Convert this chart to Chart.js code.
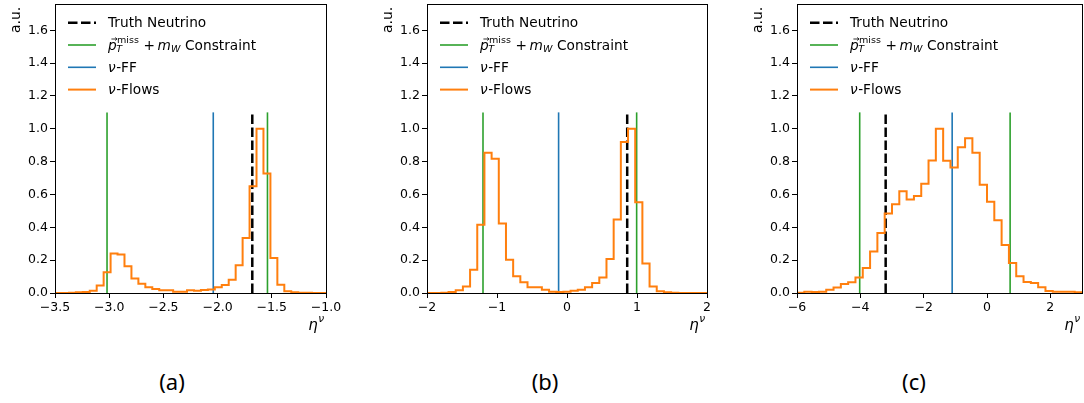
<!DOCTYPE html>
<html>
<head>
<meta charset="utf-8">
<script src="https://cdn.jsdelivr.net/npm/chart.js@4.4.1/dist/chart.umd.min.js"></script>
<style>
  body { margin: 0; background: #fff; width: 1084px; height: 403px; position: relative; overflow: hidden; }
  canvas { position: absolute; top: 0; }
  .cap { position: absolute; top: 370px; width: 60px; margin-left: -30px; text-align: center;
         font: 22px "Noto Sans", sans-serif; line-height: 22px; color: #000; }
</style>
</head>
<body>
<canvas id="panelA" width="342" height="345" style="left:0px"></canvas>
<canvas id="panelB" width="351" height="345" style="left:372px"></canvas>
<canvas id="panelC" width="356" height="345" style="left:742px"></canvas>
<div class="cap" style="left:172px">(a)</div>
<div class="cap" style="left:545px">(b)</div>
<div class="cap" style="left:914px">(c)</div>
<script>
// ---- data ----
// every panel: 39 equal bins between the x-axis limits, normalised to peak 1
const rangeA = [-3.5, -1.0];
const flowsA = [0, 0, 0.002, 0.004, 0.006, 0.014, 0.045, 0.126, 0.24, 0.234,
                0.163, 0.089, 0.057, 0.035, 0.024, 0.016, 0.016, 0.008, 0.008, 0.016,
                0.014, 0.018, 0.022, 0.035, 0.049, 0.081, 0.169, 0.335, 0.65, 1.0,
                0.728, 0.213, 0.051, 0.01, 0.004, 0.002, 0.001, 0, 0];
const truthA = -1.68;
const constraintA = [-3.02, -1.54];
const ffA = -2.04;
const xTicksA = [-3.5, -3.0, -2.5, -2.0, -1.5, -1.0];

const rangeB = [-2, 2];
const flowsB = [0, 0, 0.002, 0.006, 0.016, 0.04, 0.142, 0.415, 0.854, 0.817,
                0.423, 0.203, 0.102, 0.065, 0.035, 0.035, 0.02, 0.008, 0.006, 0.008,
                0.014, 0.02, 0.035, 0.061, 0.095, 0.207, 0.447, 0.919, 1.0, 0.553,
                0.179, 0.04, 0.01, 0.004, 0.002, 0, 0, 0, 0];
const truthB = 0.86;
const constraintB = [-1.2, 0.995];
const ffB = -0.12;
const xTicksB = [-2, -1, 0, 1, 2];

const rangeC = [-6, 3];
const flowsC = [0.002, 0.008, 0.006, 0.008, 0.02, 0.033, 0.055, 0.065, 0.095, 0.152,
                0.252, 0.366, 0.484, 0.54, 0.62, 0.57, 0.59, 0.665, 0.807, 1.0,
                0.805, 0.764, 0.888, 0.943, 0.854, 0.66, 0.555, 0.443, 0.293, 0.183,
                0.102, 0.067, 0.061, 0.035, 0.012, 0.008, 0.008, 0.008, 0.004];
const truthC = -3.2;
const constraintC = [-4.02, 0.73];
const ffC = -1.1;
const xTicksC = [-6, -4, -2, 0, 2];

const yTicks = [0, 0.2, 0.4, 0.6, 0.8, 1.0, 1.2, 1.4, 1.6];
const yMax = 1.76;      // upper y limit
const markerTop = 1.1;  // height of the vertical marker lines

// ---- styling ----
const ORANGE = '#ff7f0e', GREEN = '#2ca02c', BLUE = '#1f77b4';
const FONT = '"DejaVu Sans"';
const FS = 12.5;   // tick labels
const LFS = 13.7;  // legend text
const minus = s => s.replace('-', '\u2212');

function txt(ctx, s, x, y, size, italic) {
  ctx.font = (italic ? 'italic ' : '') + size + 'px ' + FONT;
  ctx.fillText(s, x, y);
  return x + ctx.measureText(s).width;
}

// frame, legend and axis labels drawn on top of the datasets
const decor = {
  id: 'decor',
  afterDatasetsDraw(chart) {
    const { ctx, chartArea: a } = chart;
    ctx.save();
    ctx.strokeStyle = '#000';
    ctx.lineWidth = 1;
    ctx.setLineDash([]);
    ctx.strokeRect(a.left + 0.5, a.top + 0.5, a.right - a.left, a.bottom - a.top);

    // legend
    const rows = [
      { color: '#000', width: 2.5, dash: [9.5, 3.5] },
      { color: GREEN, width: 1.6, dash: [] },
      { color: BLUE, width: 1.6, dash: [] },
      { color: ORANGE, width: 2, dash: [] }
    ];
    const hx0 = a.left + 13, hx1 = a.left + 41, tx = a.left + 53;
    const sub = LFS * 0.7;
    ctx.fillStyle = '#000';
    ctx.textBaseline = 'alphabetic';
    rows.forEach((r, i) => {
      const cy = a.top + 18.7 + i * 22.3;
      ctx.beginPath();
      ctx.strokeStyle = r.color;
      ctx.lineWidth = r.width;
      ctx.setLineDash(r.dash);
      ctx.moveTo(hx0, cy);
      ctx.lineTo(hx1, cy);
      ctx.stroke();
      ctx.setLineDash([]);
      const base = cy + 4.6;
      if (i === 0) {
        txt(ctx, 'Truth Neutrino', tx, base, LFS);
      } else if (i === 1) {
        let x = txt(ctx, 'p', tx, base, LFS, true);
        // vector arrow over p
        ctx.strokeStyle = '#000';
        ctx.lineWidth = 0.8;
        ctx.beginPath();
        ctx.moveTo(tx + 3.4, base - 10.6);
        ctx.lineTo(tx + 9, base - 10.6);
        ctx.moveTo(tx + 7.2, base - 12.1);
        ctx.lineTo(tx + 9, base - 10.6);
        ctx.lineTo(tx + 7.2, base - 9.1);
        ctx.stroke();
        txt(ctx, 'T', x - 0.5, base + 2.2, sub, true);
        x = txt(ctx, 'miss', x + 0.3, base - 6.4, sub);
        x = txt(ctx, '+', x + 4.5, base, LFS);
        x = txt(ctx, 'm', x + 2.5, base, LFS, true);
        x = txt(ctx, 'W', x + 0.3, base + 2.2, sub, true);
        txt(ctx, 'Constraint', x + 4.5, base, LFS);
      } else {
        const x = txt(ctx, '\u03bd', tx, base, LFS, true);
        txt(ctx, i === 2 ? '-FF' : '-Flows', x + 0.5, base, LFS);
      }
    });

    // y label, rotated, aligned to the top
    ctx.save();
    ctx.translate(a.left - 35, a.top);
    ctx.rotate(-Math.PI / 2);
    ctx.textAlign = 'right';
    ctx.font = '14px ' + FONT;
    ctx.fillText('a.u.', -2.7, 0);
    ctx.restore();

    // x label eta^nu, aligned to the right
    ctx.font = 'italic 15px ' + FONT;
    const wEta = ctx.measureText('\u03b7').width;
    ctx.font = 'italic 10.5px ' + FONT;
    const wNu = ctx.measureText('\u03bd').width;
    const x0 = a.right - 2 - wNu - wEta - 0.5;
    txt(ctx, '\u03b7', x0, a.bottom + 37, 15, true);
    txt(ctx, '\u03bd', x0 + wEta + 0.5, a.bottom + 29, 10.5, true);
    ctx.restore();
  }
};

function vline(x, color, width, dash) {
  return {
    data: [{ x: x, y: 0 }, { x: x, y: markerTop }],
    borderColor: color, borderWidth: width, borderDash: dash,
    pointRadius: 0, fill: false, borderCapStyle: 'butt'
  };
}

function makePanel(id, range, flows, truth, constraint, ff, xTicks, decimals) {
  const [lo, hi] = range;
  const w = (hi - lo) / flows.length;
  const pts = [{ x: lo, y: 0 }];
  flows.forEach((v, i) => pts.push({ x: lo + i * w, y: v }));
  pts.push({ x: hi, y: flows[flows.length - 1] });
  pts.push({ x: hi, y: 0 });

  const tickFont = { family: FONT, size: FS };
  new Chart(document.getElementById(id), {
    type: 'line',
    data: {
      datasets: [
        { data: pts, borderColor: ORANGE, borderWidth: 2, stepped: 'before',
          pointRadius: 0, fill: false, borderJoinStyle: 'miter' },
        vline(truth, '#000', 2.5, [9.5, 3.5]),
        vline(constraint[0], GREEN, 1.6, []),
        vline(constraint[1], GREEN, 1.6, []),
        vline(ff, BLUE, 1.6, [])
      ]
    },
    options: {
      responsive: false,
      animation: false,
      events: [],
      layout: { padding: { top: 4, right: 16, left: 0, bottom: 0 }, autoPadding: false },
      plugins: { legend: { display: false }, tooltip: { enabled: false } },
      scales: {
        x: {
          type: 'linear', min: lo, max: hi,
          afterBuildTicks: s => { s.ticks = xTicks.map(v => ({ value: v })); },
          afterFit: s => { s.height = 52; s.paddingLeft = 0; s.paddingRight = 0; },
          grid: { display: true, drawOnChartArea: false, drawTicks: true, tickLength: 5,
                  color: '#000', lineWidth: 1 },
          border: { display: false },
          ticks: { font: tickFont, color: '#000', padding: 2, maxRotation: 0,
                   callback: v => minus(v.toFixed(decimals)) }
        },
        y: {
          type: 'linear', min: 0, max: yMax,
          afterBuildTicks: s => { s.ticks = yTicks.map(v => ({ value: v })); },
          afterFit: s => { s.width = 55; s.paddingTop = 0; s.paddingBottom = 0; },
          grid: { display: true, drawOnChartArea: false, drawTicks: true, tickLength: 5,
                  color: '#000', lineWidth: 1 },
          border: { display: false },
          ticks: { font: tickFont, color: '#000', padding: 2,
                   callback: v => v.toFixed(1) }
        }
      }
    },
    plugins: [decor]
  });
}

makePanel('panelA', rangeA, flowsA, truthA, constraintA, ffA, xTicksA, 1);
makePanel('panelB', rangeB, flowsB, truthB, constraintB, ffB, xTicksB, 0);
makePanel('panelC', rangeC, flowsC, truthC, constraintC, ffC, xTicksC, 0);
</script>
</body>
</html>
